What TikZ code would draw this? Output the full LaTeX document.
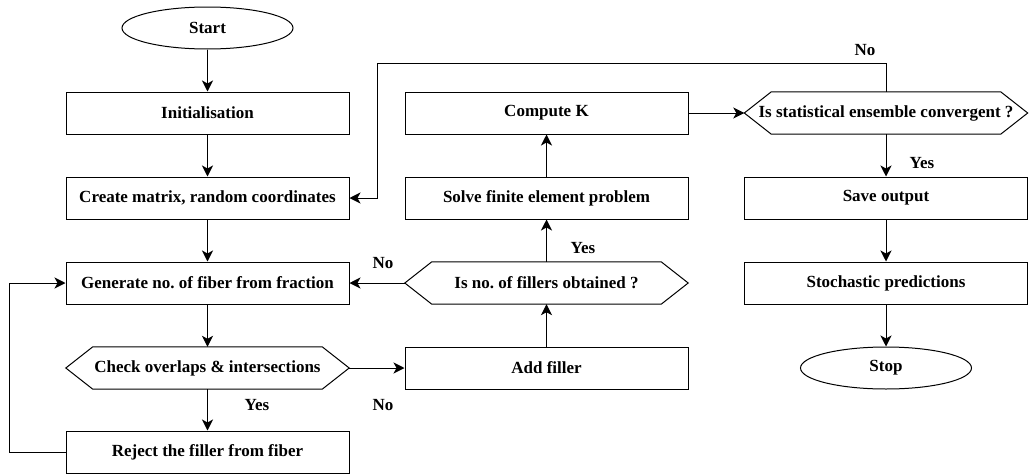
\documentclass[tikz,border=0pt]{standalone}
\usepackage{fontspec}
\setmainfont{Liberation Serif}
\usetikzlibrary{arrows.meta,shapes.geometric}
\frenchspacing
\begin{document}
\begin{tikzpicture}[x=1pt,y=-1pt,
  every node/.style={font=\bfseries\fontsize{17}{20}\selectfont, inner sep=0pt},
  box/.style={draw, line width=1pt, minimum width=283pt, minimum height=42pt},
  hexnode/.style={minimum width=283pt, minimum height=42pt},
  term/.style={draw, ellipse, line width=1pt, minimum width=171pt, minimum height=42pt},
  conn/.style={line width=1pt, -{Stealth[length=11pt,width=11pt,inset=3pt]}},
  lbl/.style={font=\bfseries\fontsize{17}{20}\selectfont}
]
\useasboundingbox (0,0) rectangle (1029,474);
\newcommand\hexdraw[1]{\draw[line width=1pt] (#1.west) -- ([xshift=27pt]#1.north west) -- ([xshift=-27pt]#1.north east) -- (#1.east) -- ([xshift=-27pt]#1.south east) -- ([xshift=27pt]#1.south west) -- cycle;}

\node[term] (start) at (207.5,28) {Start};
\node[box] (init) at (207.5,113) {Initialisation};
\node[box] (create) at (207.5,198) {Create matrix, random coordinates};
\node[box] (gen) at (207.5,283) {Generate no. of fiber from fraction};
\node[hexnode] (check) at (207.5,368) {Check overlaps \& intersections};
\hexdraw{check}
\node[box] (reject) at (207.5,452) {Reject the filler from fiber};

\node[box] (compute) at (546.5,113) {Compute K};
\node[box] (solve) at (546.5,198) {Solve finite element problem};
\node[hexnode] (isno) at (546.5,283) {Is no. of fillers obtained ?};
\hexdraw{isno}
\node[box] (add) at (546.5,368) {Add filler};

\node[hexnode] (conv) at (886,113) {Is statistical ensemble convergent ?};
\hexdraw{conv}
\node[box] (save) at (886,198) {Save output};
\node[box] (stoch) at (886,283) {Stochastic predictions};
\node[term] (stop) at (886,368) {Stop};

\coordinate (l1) at (9,452);
\coordinate (l2) at (9,283);
\coordinate (t1) at (886,63);
\coordinate (t2) at (377,63);
\coordinate (t3) at (377,198);

\draw[conn] (start) -- (init);
\draw[conn] (init) -- (create);
\draw[conn] (create) -- (gen);
\draw[conn] (gen) -- (check);
\draw[conn] (check) -- (reject);
\draw[conn] (reject.west) -- (l1) -- (l2) -- (gen.west);
\draw[conn] (check.east) -- (add.west);
\draw[conn] (add.north) -- (isno.south);
\draw[conn] (isno.west) -- (gen.east);
\draw[conn] (isno.north) -- (solve.south);
\draw[conn] (solve) -- (compute);
\draw[conn] (compute.east) -- (conv.west);
\draw[conn] (conv.north) -- (t1) -- (t2) -- (t3) -- (create.east);
\draw[conn] (conv.south) -- (save.north);
\draw[conn] (save) -- (stoch);
\draw[conn] (stoch) -- (stop);

\node[lbl] (y1) at (257,405) {Yes};
\node[lbl] (n1) at (383,405) {No};
\node[lbl] (n2) at (383,263) {No};
\node[lbl] (y2) at (583,248) {Yes};
\node[lbl] (n3) at (865,50) {No};
\node[lbl] (y3) at (922,163) {Yes};
\end{tikzpicture}
\end{document}
